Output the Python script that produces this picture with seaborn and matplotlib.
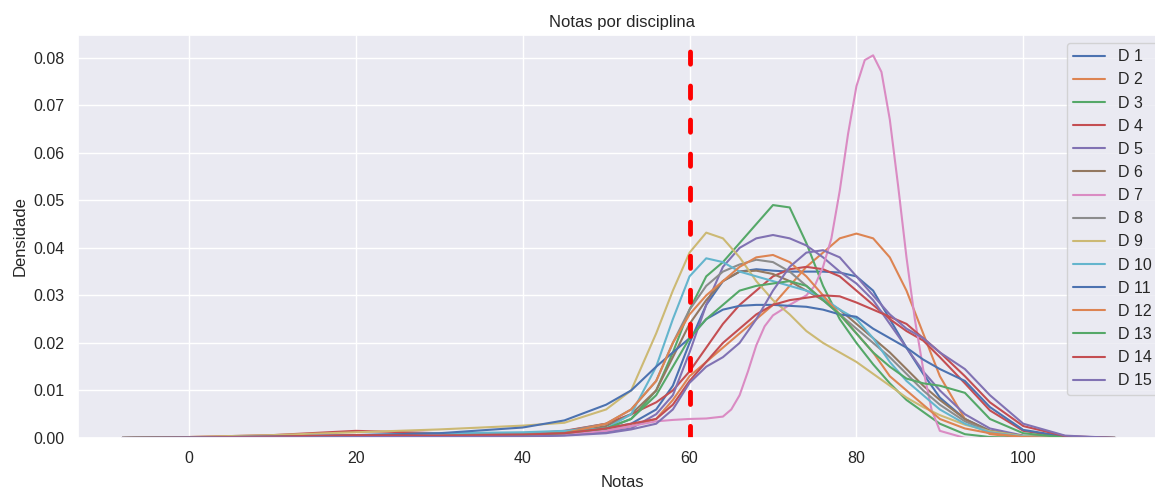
import matplotlib
matplotlib.use('Agg')
import matplotlib.pyplot as plt
import seaborn as sns

notas = [-8, 0, 10, 20, 30, 40, 45, 50, 53, 56, 58, 60, 62, 64, 66, 68,
         70, 72, 74, 76, 78, 80, 82, 84, 86, 88, 90, 93, 96, 100, 105, 111]
# D 7 has a narrow peak, so it was read on a finer grid
notas_d7 = [-8, 0, 10, 20, 30, 40, 45, 50, 53, 56, 58, 60, 62, 64, 65, 66, 67, 68, 69, 70,
            72, 74, 75, 76, 77, 78, 79, 80, 81, 82, 83, 84, 85, 86, 87, 88, 89, 90, 93, 100, 111]

d1 = [0, 0.0001, 0.0002, 0.0004, 0.0005, 0.0008, 0.0012, 0.002, 0.003, 0.006, 0.011, 0.02, 0.028, 0.033, 0.035, 0.0355,
      0.0352, 0.035, 0.035, 0.035, 0.0348, 0.034, 0.031, 0.025, 0.019, 0.0135, 0.0085, 0.004, 0.0015, 0.0004, 0.0001, 0]
d2 = [0, 0.0001, 0.0002, 0.0003, 0.0004, 0.0005, 0.0008, 0.0015, 0.0025, 0.004, 0.008, 0.013, 0.016, 0.019, 0.022, 0.025,
      0.028, 0.032, 0.036, 0.039, 0.042, 0.043, 0.042, 0.038, 0.031, 0.022, 0.013, 0.004, 0.0008, 0.0001, 0, 0]
d3 = [0, 0.0001, 0.0002, 0.0003, 0.0004, 0.0005, 0.0008, 0.002, 0.004, 0.010, 0.018, 0.027, 0.034, 0.037, 0.041, 0.045,
      0.049, 0.0485, 0.041, 0.032, 0.025, 0.020, 0.0155, 0.0115, 0.008, 0.0055, 0.003, 0.0008, 0.0002, 0, 0, 0]
d4 = [0, 0.0002, 0.0006, 0.0015, 0.001, 0.0008, 0.0015, 0.003, 0.005, 0.0075, 0.01, 0.014, 0.019, 0.024, 0.028, 0.031,
      0.034, 0.0355, 0.036, 0.0355, 0.034, 0.031, 0.028, 0.025, 0.0225, 0.0205, 0.017, 0.0115, 0.0058, 0.0015, 0.0002, 0]
d5 = [0, 0.0001, 0.0001, 0.0002, 0.0003, 0.0004, 0.0006, 0.0012, 0.002, 0.005, 0.009, 0.018, 0.028, 0.036, 0.040, 0.042,
      0.0427, 0.042, 0.0405, 0.038, 0.035, 0.0325, 0.029, 0.024, 0.019, 0.014, 0.010, 0.005, 0.002, 0.0005, 0.0001, 0]
d6 = [0, 0.0001, 0.0002, 0.0003, 0.0004, 0.0006, 0.001, 0.0025, 0.005, 0.01, 0.017, 0.024, 0.029, 0.033, 0.035, 0.0352,
      0.0345, 0.033, 0.031, 0.029, 0.027, 0.024, 0.021, 0.018, 0.0145, 0.011, 0.008, 0.004, 0.0015, 0.0004, 0.0001, 0]
d7 = [0, 0.0001, 0.0002, 0.0003, 0.0004, 0.0005, 0.0008, 0.0015, 0.0025, 0.0035, 0.0038, 0.004, 0.0041, 0.0045, 0.006,
      0.009, 0.014, 0.0195, 0.0235, 0.0258, 0.028, 0.030, 0.032, 0.036, 0.042, 0.052, 0.064, 0.074, 0.0795, 0.0805,
      0.077, 0.067, 0.053, 0.038, 0.025, 0.0145, 0.006, 0.0015, 0, 0, 0]
d8 = [0, 0.0001, 0.0002, 0.0003, 0.0005, 0.0008, 0.0014, 0.003, 0.006, 0.012, 0.02, 0.027, 0.032, 0.035, 0.0365, 0.0375,
      0.037, 0.035, 0.032, 0.029, 0.026, 0.023, 0.020, 0.017, 0.0135, 0.010, 0.007, 0.0035, 0.0013, 0.0003, 0, 0]
d9 = [0, 0.0002, 0.0006, 0.0012, 0.0018, 0.0026, 0.0032, 0.006, 0.010, 0.022, 0.031, 0.039, 0.0432, 0.042, 0.038, 0.033,
      0.029, 0.026, 0.0225, 0.020, 0.018, 0.016, 0.0135, 0.011, 0.0085, 0.0065, 0.0048, 0.0028, 0.0014, 0.0004, 0.0001, 0]
d10 = [0, 0.0001, 0.0003, 0.0006, 0.001, 0.0012, 0.0015, 0.002, 0.005, 0.015, 0.025, 0.034, 0.0378, 0.037, 0.035, 0.034,
       0.033, 0.032, 0.031, 0.0295, 0.027, 0.025, 0.021, 0.016, 0.012, 0.009, 0.006, 0.003, 0.0012, 0.0003, 0, 0]
d11 = [0, 0.0001, 0.0003, 0.0006, 0.001, 0.0022, 0.0037, 0.007, 0.010, 0.015, 0.018, 0.021, 0.025, 0.027, 0.0278, 0.028,
       0.028, 0.0278, 0.0276, 0.027, 0.026, 0.0255, 0.023, 0.021, 0.019, 0.0165, 0.0145, 0.012, 0.0065, 0.0017, 0.0003, 0]
d12 = [0, 0.0001, 0.0002, 0.0003, 0.0004, 0.0006, 0.001, 0.003, 0.006, 0.012, 0.02, 0.026, 0.030, 0.033, 0.036, 0.038,
       0.0385, 0.037, 0.034, 0.030, 0.026, 0.022, 0.018, 0.013, 0.010, 0.007, 0.004, 0.002, 0.001, 0.0002, 0, 0]
d13 = [0, 0.0001, 0.0002, 0.0003, 0.0004, 0.0006, 0.001, 0.002, 0.004, 0.009, 0.015, 0.021, 0.025, 0.028, 0.031, 0.032,
       0.0325, 0.033, 0.032, 0.029, 0.026, 0.022, 0.018, 0.015, 0.0125, 0.0115, 0.011, 0.0095, 0.004, 0.001, 0.0001, 0]
d14 = [0, 0.0001, 0.0003, 0.0006, 0.0005, 0.0007, 0.001, 0.002, 0.003, 0.004, 0.007, 0.012, 0.016, 0.020, 0.023, 0.026,
       0.028, 0.029, 0.0295, 0.030, 0.0298, 0.0285, 0.027, 0.0255, 0.024, 0.021, 0.018, 0.013, 0.0075, 0.0025, 0.0004, 0]
d15 = [0, 0.0001, 0.0001, 0.0002, 0.0002, 0.0003, 0.0005, 0.001, 0.0018, 0.003, 0.006, 0.0116, 0.015, 0.017, 0.020, 0.025,
       0.031, 0.036, 0.039, 0.0395, 0.038, 0.034, 0.030, 0.026, 0.023, 0.021, 0.018, 0.0145, 0.009, 0.003, 0.0005, 0]

disciplinas = ['D 1', 'D 2', 'D 3', 'D 4', 'D 5', 'D 6', 'D 7', 'D 8',
               'D 9', 'D 10', 'D 11', 'D 12', 'D 13', 'D 14', 'D 15']
densidades = [d1, d2, d3, d4, d5, d6, d7, d8, d9, d10, d11, d12, d13, d14, d15]
eixos_x = [notas] * 6 + [notas_d7] + [notas] * 8
nota_corte = 60

sns.set_theme(style='darkgrid')
plt.rcParams['font.family'] = ['Liberation Sans', 'DejaVu Sans']

fig = plt.figure(figsize=(11.55, 4.88), dpi=100)
ax = fig.add_axes([0.0675, 0.1025, 0.942, 0.826])

cores = (sns.color_palette('deep') * 2)[:15]
for nome, xs, dens, cor in zip(disciplinas, eixos_x, densidades, cores):
    sns.lineplot(x=xs, y=dens, label=nome, color=cor, linewidth=1.5, ax=ax)

ax.axvline(nota_corte, color='red', linewidth=3.5, linestyle=(0, (2.5, 4.5)),
           dash_capstyle='round')

ax.set_xlim(-13.3, 117.1)
ax.set_ylim(0, 0.0848)
ax.set_title('Notas por disciplina', fontsize=12)
ax.set_xlabel('Notas', fontsize=12, labelpad=6)
ax.set_ylabel('Densidade', fontsize=12)
ax.tick_params(labelsize=11.5)
ax.legend(loc='upper right', fontsize=11.5, labelspacing=0.51)

fig.savefig('out.png', dpi=100)
